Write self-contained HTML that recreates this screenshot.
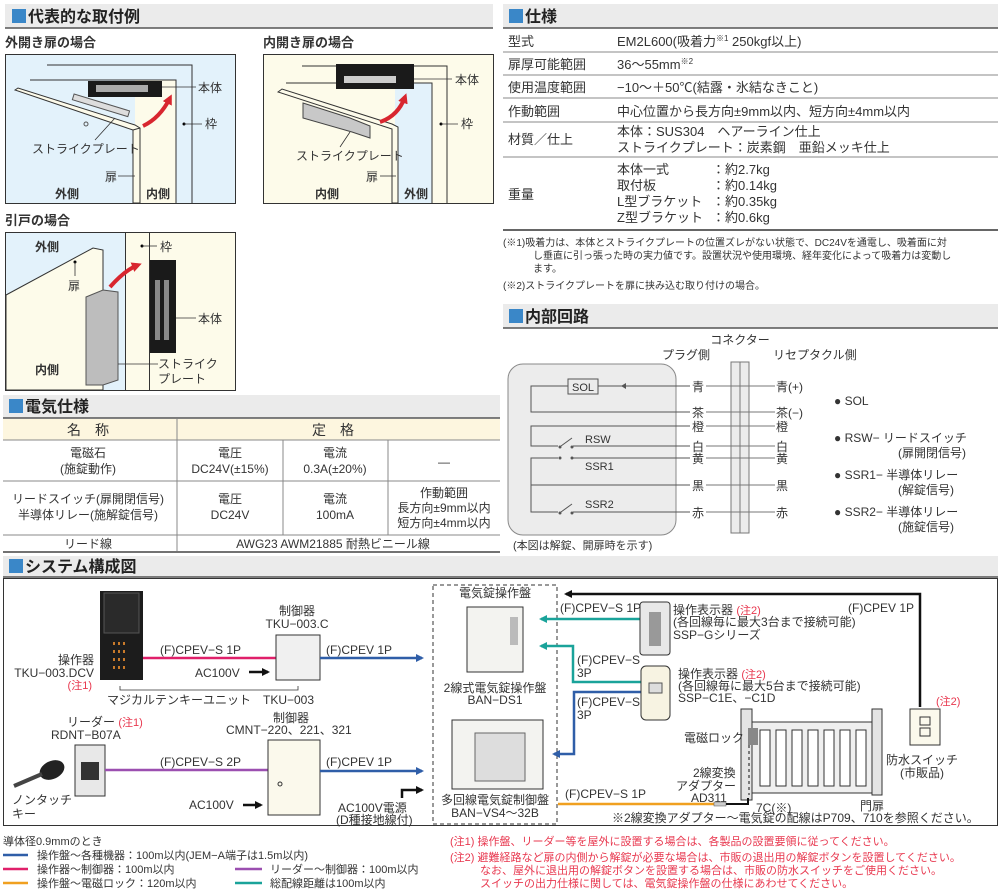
<!DOCTYPE html>
<html><head><meta charset="utf-8"><style>
html,body{margin:0;padding:0;background:#fff}
svg{display:block}
text{font-family:"Liberation Sans","Noto Sans CJK JP",sans-serif;fill:#333}
.h{font-size:16px;font-weight:bold;fill:#222}
.s{font-size:11px}
.m{font-size:12px}
.t{font-size:13px}
.r,.r text,tspan.r{fill:#e8384f}
.b{font-weight:bold}
</style></head><body>
<svg width="1000" height="895" viewBox="0 0 1000 895" xmlns="http://www.w3.org/2000/svg">
<defs>
<marker id="ab" markerWidth="8" markerHeight="8" refX="6" refY="4" orient="auto" markerUnits="userSpaceOnUse"><path d="M0,0 L8,4 L0,8 z" fill="#2f5ea8"/></marker>
<marker id="at" markerWidth="8" markerHeight="8" refX="6" refY="4" orient="auto" markerUnits="userSpaceOnUse"><path d="M0,0 L8,4 L0,8 z" fill="#1aa39a"/></marker>
<marker id="ak" markerWidth="8" markerHeight="8" refX="6" refY="4" orient="auto" markerUnits="userSpaceOnUse"><path d="M0,0 L8,4 L0,8 z" fill="#111"/></marker>
<marker id="ar" markerWidth="10" markerHeight="10" refX="6" refY="5" orient="auto" markerUnits="userSpaceOnUse"><path d="M0,0 L10,5 L0,10 z" fill="#d8262f"/></marker>
</defs>

<g>
<rect x="5" y="4" width="488" height="24" fill="#ebebeb"/><line x1="5" y1="28" x2="493" y2="28" stroke="#555" stroke-width="1.5"/>
<rect x="12" y="9" width="14" height="14" fill="#3a87c8"/><text x="28" y="22" class="h">代表的な取付例</text>
<rect x="503" y="4" width="495" height="24" fill="#ebebeb"/><line x1="503" y1="28" x2="998" y2="28" stroke="#555" stroke-width="1.5"/>
<rect x="509" y="9" width="14" height="14" fill="#3a87c8"/><text x="525" y="22" class="h">仕様</text>
<rect x="503" y="304" width="495" height="24" fill="#ebebeb"/><line x1="503" y1="328" x2="998" y2="328" stroke="#555" stroke-width="1.5"/>
<rect x="509" y="309" width="14" height="14" fill="#3a87c8"/><text x="525" y="322" class="h">内部回路</text>
<rect x="3" y="395" width="497" height="23" fill="#ebebeb"/><line x1="3" y1="418" x2="500" y2="418" stroke="#555" stroke-width="1.5"/>
<rect x="9" y="399" width="14" height="14" fill="#3a87c8"/><text x="25" y="412" class="h">電気仕様</text>
<rect x="3" y="556" width="995" height="21" fill="#ebebeb"/><line x1="3" y1="577" x2="998" y2="577" stroke="#555" stroke-width="1.5"/>
<rect x="9" y="559" width="14" height="14" fill="#3a87c8"/><text x="25" y="572" class="h">システム構成図</text>
</g>

<!-- 外開き -->
<text x="5" y="47" class="t b" fill="#222">外開き扉の場合</text>
<rect x="5.5" y="54.5" width="230" height="149" fill="#e3f2fb" stroke="#333"/>
<polygon points="135,80 176,80 176,203 135,203" fill="#fdfbea"/>
<polyline points="47,65 192,65 192,203" fill="none" stroke="#333"/>
<polyline points="30,80 176,80 176,203" fill="none" stroke="#333"/>
<polygon points="15,90 18,88 135,125 140,128 140,203 133,203 133,130" fill="#fdfbea" stroke="#333"/>
<line x1="133" y1="130" x2="140" y2="128" stroke="#333"/>
<rect x="72" y="102" width="58" height="6" fill="#ddd" stroke="#555" transform="rotate(17 100 105)"/>
<circle cx="86" cy="124" r="2" fill="none" stroke="#555"/>
<rect x="88" y="81" width="74" height="16" fill="#1a1a1a"/><rect x="96" y="85" width="52" height="7" fill="#aaa"/>
<path d="M143,126 Q160,118 170,98" fill="none" stroke="#d8262f" stroke-width="4" marker-end="url(#ar)"/>
<line x1="162" y1="87" x2="196" y2="87" stroke="#333" stroke-width=".8"/><text x="198" y="92" class="m">本体</text>
<circle cx="184" cy="124" r="1.5" fill="#000"/><line x1="184" y1="124" x2="202" y2="124" stroke="#333" stroke-width=".8"/><text x="205" y="128" class="m">枠</text>
<line x1="115" y1="118" x2="95" y2="140" stroke="#333" stroke-width=".8"/><text x="32" y="153" class="m" fill="#555">ストライクプレート</text>
<text x="105" y="181" class="m">扉</text><line x1="118" y1="176" x2="135" y2="176" stroke="#333" stroke-width=".8"/>
<text x="55" y="198" class="m b">外側</text><text x="146" y="198" class="m b">内側</text>

<!-- 内開き -->
<text x="263" y="47" class="t b" fill="#222">内開き扉の場合</text>
<rect x="263.5" y="54.5" width="230" height="149" fill="#fdfbea" stroke="#333"/>
<polygon points="395,83 432,83 432,203 395,203" fill="#e3f2fb"/>
<polyline points="302,66 447,66 447,203" fill="none" stroke="#333"/>
<polyline points="286,83 432,83 432,203" fill="none" stroke="#333"/>
<polygon points="278,92 282,89 392,124 398,127 398,203 392,203 392,129" fill="#fdfbea" stroke="#333"/>
<rect x="336" y="64" width="78" height="25" fill="#1a1a1a"/><rect x="344" y="76" width="52" height="7" fill="#ccc"/>
<polygon points="303,103 350,118 370,126 370,138 352,132 303,118" fill="#c8c8c8" stroke="#444"/>
<path d="M380,122 Q398,116 405,97" fill="none" stroke="#d8262f" stroke-width="4" marker-end="url(#ar)"/>
<line x1="414" y1="79" x2="452" y2="79" stroke="#333" stroke-width=".8"/><text x="455" y="84" class="m">本体</text>
<circle cx="441" cy="124" r="1.5" fill="#000"/><line x1="441" y1="124" x2="458" y2="124" stroke="#333" stroke-width=".8"/><text x="461" y="128" class="m">枠</text>
<line x1="350" y1="132" x2="340" y2="147" stroke="#333" stroke-width=".8"/><text x="296" y="160" class="m" fill="#555">ストライクプレート</text>
<text x="366" y="181" class="m">扉</text><line x1="380" y1="176" x2="396" y2="176" stroke="#333" stroke-width=".8"/>
<text x="315" y="198" class="m b">内側</text><text x="404" y="198" class="m b">外側</text>

<!-- 引戸 -->
<text x="5" y="225" class="t b" fill="#222">引戸の場合</text>
<rect x="5.5" y="232.5" width="230" height="158" fill="#fdfbea" stroke="#333"/>
<polygon points="6,233 125,233 125,390 6,390" fill="#e3f2fb"/>
<polygon points="6,295 93,248 103,250 103,390 6,390" fill="#fdfbea" stroke="#333"/>
<line x1="125.5" y1="233" x2="125.5" y2="390" stroke="#333"/><line x1="149.5" y1="233" x2="149.5" y2="390" stroke="#333"/>
<polygon points="86,297 103,290 118,292 118,380 103,385 86,385" fill="#bdbdbd" stroke="#555"/>
<rect x="150" y="260" width="26" height="93" fill="#1a1a1a"/><rect x="155" y="280" width="5" height="60" fill="#888"/><rect x="164" y="280" width="5" height="60" fill="#888"/>
<path d="M110,287 Q125,270 138,265" fill="none" stroke="#d8262f" stroke-width="4" marker-end="url(#ar)"/>
<text x="35" y="251" class="m b">外側</text><text x="35" y="374" class="m b">内側</text>
<circle cx="142" cy="246" r="1.5" fill="#000"/><line x1="142" y1="246" x2="157" y2="246" stroke="#333" stroke-width=".8"/><text x="160" y="251" class="m">枠</text>
<circle cx="75" cy="262" r="1.5" fill="#000"/><line x1="75" y1="262" x2="75" y2="276" stroke="#333" stroke-width=".8"/><text x="68" y="290" class="m">扉</text>
<line x1="176" y1="318" x2="196" y2="318" stroke="#333" stroke-width=".8"/><text x="198" y="323" class="m">本体</text>
<line x1="118" y1="364" x2="158" y2="364" stroke="#333" stroke-width=".8"/><text x="158" y="368" class="m">ストライク</text><text x="158" y="383" class="m">プレート</text>

<!-- spec table -->
<g class="t">
<text x="508" y="46">型式</text><text x="617" y="46">EM2L600(吸着力<tspan font-size="8" dy="-5">※1</tspan><tspan dy="5"> 250kgf以上)</tspan></text>
<line x1="503" y1="52" x2="998" y2="52" stroke="#888"/>
<text x="508" y="69">扉厚可能範囲</text><text x="617" y="69">36〜55mm<tspan font-size="8" dy="-5">※2</tspan></text>
<line x1="503" y1="75" x2="998" y2="75" stroke="#888"/>
<text x="508" y="92">使用温度範囲</text><text x="617" y="92">−10〜＋50℃(結露・氷結なきこと)</text>
<line x1="503" y1="98" x2="998" y2="98" stroke="#888"/>
<text x="508" y="116">作動範囲</text><text x="617" y="116">中心位置から長方向±9mm以内、短方向±4mm以内</text>
<line x1="503" y1="122" x2="998" y2="122" stroke="#888"/>
<text x="508" y="144">材質／仕上</text><text x="617" y="136">本体：SUS304　ヘアーライン仕上</text><text x="617" y="152">ストライクプレート：炭素鋼　亜鉛メッキ仕上</text>
<line x1="503" y1="157" x2="998" y2="157" stroke="#888"/>
<text x="508" y="199">重量</text>
<text x="617" y="174">本体一式</text><text x="712" y="174">：約2.7kg</text>
<text x="617" y="190">取付板</text><text x="712" y="190">：約0.14kg</text>
<text x="617" y="206">L型ブラケット</text><text x="712" y="206">：約0.35kg</text>
<text x="617" y="222">Z型ブラケット</text><text x="712" y="222">：約0.6kg</text>
</g>
<line x1="503" y1="230" x2="998" y2="230" stroke="#333" stroke-width="1.5"/>
<g style="font-size:10px">
<text x="503" y="246">(※1)吸着力は、本体とストライクプレートの位置ズレがない状態で、DC24Vを通電し、吸着面に対</text>
<text x="533" y="259">し垂直に引っ張った時の実力値です。設置状況や使用環境、経年変化によって吸着力は変動し</text>
<text x="533" y="272">ます。</text>
<text x="503" y="289">(※2)ストライクプレートを扉に挟み込む取り付けの場合。</text>
</g>

<!-- internal circuit -->
<rect x="508" y="364" width="168" height="171" rx="15" fill="#ececec" stroke="#888"/>
<rect x="731" y="362" width="18" height="171" fill="#ececec" stroke="#777"/><line x1="740" y1="362" x2="740" y2="533" stroke="#777"/>
<text x="740" y="344" class="m" text-anchor="middle">コネクター</text>
<text x="686" y="359" class="m" text-anchor="middle">プラグ側</text><text x="773" y="359" class="m">リセプタクル側</text>
<g stroke="#555" stroke-width="1" fill="none">
<polyline points="568,386 531,386 531,412 690,412"/>
<line x1="598" y1="386" x2="690" y2="386"/>
<polyline points="690,426 531,426 531,446 558,446"/><line x1="573" y1="446" x2="690" y2="446"/>
<polyline points="558,458 531,458 531,512 558,512"/><line x1="573" y1="458" x2="690" y2="458"/>
<line x1="531" y1="485" x2="690" y2="485"/><line x1="573" y1="512" x2="690" y2="512"/>
<line x1="561" y1="446" x2="572" y2="438"/><line x1="561" y1="512" x2="572" y2="504"/>
<g stroke="#777">
<line x1="706" y1="386" x2="775" y2="386"/><line x1="706" y1="412" x2="775" y2="412"/><line x1="706" y1="426" x2="775" y2="426"/>
<line x1="706" y1="446" x2="775" y2="446"/><line x1="706" y1="458" x2="775" y2="458"/><line x1="706" y1="485" x2="775" y2="485"/><line x1="706" y1="512" x2="775" y2="512"/>
</g></g>
<rect x="568" y="379" width="30" height="15" fill="#ececec" stroke="#555"/><text x="583" y="391" class="s" text-anchor="middle">SOL</text>
<path d="M626,383 L626,389 L621,386 z" fill="#555"/>
<g fill="#555"><circle cx="560" cy="447" r="1.5"/><circle cx="572" cy="447" r="1.5"/><circle cx="560" cy="458" r="1.5"/><circle cx="572" cy="458" r="1.5"/><circle cx="560" cy="513" r="1.5"/><circle cx="572" cy="513" r="1.5"/></g>
<text x="585" y="443" class="s">RSW</text><text x="585" y="470" class="s">SSR1</text><text x="585" y="508" class="s">SSR2</text>
<g class="m" text-anchor="middle">
<text x="698" y="391">青</text><text x="698" y="417">茶</text><text x="698" y="431">橙</text><text x="698" y="451">白</text><text x="698" y="463">黄</text><text x="698" y="490">黒</text><text x="698" y="517">赤</text>
</g>
<g class="m">
<text x="776" y="391">青(+)</text><text x="776" y="417">茶(−)</text><text x="776" y="431">橙</text><text x="776" y="451">白</text><text x="776" y="463">黄</text><text x="776" y="490">黒</text><text x="776" y="517">赤</text>
<text x="834" y="405">● SOL</text>
<text x="834" y="442">● RSW−  リードスイッチ</text><text x="898" y="457">(扉開閉信号)</text>
<text x="834" y="479">● SSR1−  半導体リレー</text><text x="898" y="494">(解錠信号)</text>
<text x="834" y="516">● SSR2−  半導体リレー</text><text x="898" y="531">(施錠信号)</text>
</g>
<text x="513" y="549" class="s">(本図は解錠、開扉時を示す)</text>

<!-- electrical table -->
<rect x="3" y="419" width="497" height="21" fill="#fdf6df"/>
<g stroke="#888" stroke-width="1">
<line x1="3" y1="440" x2="500" y2="440"/><line x1="3" y1="481" x2="500" y2="481"/><line x1="3" y1="535" x2="500" y2="535"/>
<line x1="177" y1="419" x2="177" y2="551"/><line x1="283" y1="440" x2="283" y2="535"/><line x1="388" y1="440" x2="388" y2="535"/>
</g>
<line x1="3" y1="552" x2="500" y2="552" stroke="#444" stroke-width="1.5"/>
<g class="m" text-anchor="middle">
<text x="88" y="435" style="font-size:14px">名　称</text><text x="333" y="435" style="font-size:14px">定　格</text>
<text x="88" y="457">電磁石</text><text x="88" y="473">(施錠動作)</text>
<text x="230" y="457">電圧</text><text x="230" y="473">DC24V(±15%)</text>
<text x="335" y="457">電流</text><text x="335" y="473">0.3A(±20%)</text>
<text x="444" y="466">—</text>
<text x="88" y="503">リードスイッチ(扉開閉信号)</text><text x="88" y="519">半導体リレー(施解錠信号)</text>
<text x="230" y="503">電圧</text><text x="230" y="519">DC24V</text>
<text x="335" y="503">電流</text><text x="335" y="519">100mA</text>
<text x="444" y="497">作動範囲</text><text x="444" y="512">長方向±9mm以内</text><text x="444" y="527">短方向±4mm以内</text>
<text x="88" y="548">リード線</text><text x="333" y="548">AWG23 AWM21885 耐熱ビニール線</text>
</g>

<!-- system diagram -->
<rect x="3.5" y="578.5" width="994" height="247" fill="#fff" stroke="#333"/>
<rect x="433" y="585" width="124" height="239" fill="none" stroke="#333" stroke-dasharray="4,3"/>
<rect x="100" y="591" width="43" height="89" fill="#1c1c1c"/><polygon points="104,593 139,593 139,633 104,633" fill="#2a2a2a" stroke="#555"/>
<g fill="#c87a2a"><rect x="113" y="642" width="2" height="3"/><rect x="118" y="642" width="2" height="3"/><rect x="123" y="642" width="2" height="3"/><rect x="113" y="650" width="2" height="3"/><rect x="118" y="650" width="2" height="3"/><rect x="123" y="650" width="2" height="3"/><rect x="113" y="658" width="2" height="3"/><rect x="118" y="658" width="2" height="3"/><rect x="123" y="658" width="2" height="3"/><rect x="113" y="666" width="2" height="3"/><rect x="118" y="666" width="2" height="3"/><rect x="123" y="666" width="2" height="3"/></g>
<text x="94" y="664" class="m" text-anchor="end">操作器</text><text x="94" y="677" class="m" text-anchor="end">TKU−003.DCV</text><text x="92" y="689" class="s r" text-anchor="end">(注1)</text>
<line x1="143" y1="658" x2="276" y2="658" stroke="#e0206a" stroke-width="2.5"/>
<text x="160" y="654" class="m">(F)CPEV−S 1P</text>
<text x="195" y="677" class="m">AC100V</text><line x1="249" y1="672" x2="268" y2="672" stroke="#111" stroke-width="2.5" marker-end="url(#ak)"/>
<rect x="276" y="635" width="44" height="45" fill="#f0f0f0" stroke="#333"/>
<text x="297" y="615" class="m" text-anchor="middle">制御器</text><text x="297" y="628" class="m" text-anchor="middle">TKU−003.C</text>
<line x1="320" y1="658" x2="422" y2="658" stroke="#2f5ea8" stroke-width="2.5" marker-end="url(#ab)"/>
<text x="326" y="654" class="m">(F)CPEV 1P</text>
<polyline points="120,686 120,690 298,690 298,686" fill="none" stroke="#333" stroke-width=".8"/>
<text x="107" y="704" class="m">マジカルテンキーユニット　TKU−003</text>
<text x="67" y="726" class="m">リーダー <tspan class="s r">(注1)</tspan></text><text x="51" y="739" class="m">RDNT−B07A</text>
<rect x="75" y="745" width="30" height="51" fill="#e8e8e8" stroke="#333"/><rect x="81" y="762" width="18" height="18" fill="#333"/>
<ellipse cx="52" cy="770" rx="13" ry="9" fill="#222" transform="rotate(-25 52 770)"/><line x1="14" y1="786" x2="42" y2="774" stroke="#444" stroke-width="4"/>
<text x="12" y="804" class="m">ノンタッチ</text><text x="12" y="818" class="m">キー</text>
<line x1="105" y1="770" x2="268" y2="770" stroke="#9b4fb0" stroke-width="2.5"/>
<text x="160" y="766" class="m">(F)CPEV−S 2P</text>
<text x="291" y="722" class="m" text-anchor="middle">制御器</text><text x="226" y="734" class="m">CMNT−220、221、321</text>
<rect x="268" y="740" width="52" height="75" fill="#fbf9ec" stroke="#333"/><circle cx="280" cy="784" r="2" fill="none" stroke="#333"/>
<text x="189" y="809" class="m">AC100V</text><line x1="243" y1="805" x2="261" y2="805" stroke="#111" stroke-width="2.5" marker-end="url(#ak)"/>
<line x1="320" y1="771" x2="422" y2="771" stroke="#2f5ea8" stroke-width="2.5" marker-end="url(#ab)"/>
<text x="326" y="766" class="m">(F)CPEV 1P</text>
<polyline points="402,798 402,790 422,790" fill="none" stroke="#111" stroke-width="2.5" marker-end="url(#ak)"/>
<text x="338" y="812" class="m">AC100V電源</text><text x="336" y="824" class="m">(D種接地線付)</text>
<text x="495" y="597" class="m" text-anchor="middle">電気錠操作盤</text>
<rect x="467" y="607" width="56" height="65" fill="#f3f3f0" stroke="#333"/><rect x="510" y="617" width="8" height="28" fill="#bbb"/>
<text x="495" y="692" class="m" text-anchor="middle">2線式電気錠操作盤</text><text x="495" y="704" class="m" text-anchor="middle">BAN−DS1</text>
<rect x="452" y="720" width="91" height="69" fill="#f3f3f0" stroke="#333"/><rect x="475" y="733" width="50" height="48" fill="#ddd" stroke="#666"/>
<text x="495" y="804" class="m" text-anchor="middle">多回線電気錠制御盤</text><text x="495" y="817" class="m" text-anchor="middle">BAN−VS4〜32B</text>
<line x1="640" y1="619" x2="541" y2="619" stroke="#1aa39a" stroke-width="2.5" marker-end="url(#at)"/>
<text x="560" y="612" class="m">(F)CPEV−S 1P</text>
<rect x="640" y="602" width="30" height="53" rx="3" fill="#e8e8e8" stroke="#333"/><rect x="649" y="612" width="12" height="34" fill="#999"/>
<text x="673" y="614" class="m">操作表示器 <tspan class="s r">(注2)</tspan></text><text x="673" y="626" class="m">(各回線毎に最大3台まで接続可能)</text><text x="673" y="639" class="m">SSP−Gシリーズ</text>
<polyline points="641,682 573,682 573,646 541,646" fill="none" stroke="#1aa39a" stroke-width="2.5" marker-end="url(#at)"/>
<text x="577" y="664" class="m">(F)CPEV−S</text><text x="577" y="677" class="m">3P</text>
<polyline points="641,692 574,692 574,754 554,754" fill="none" stroke="#2f5ea8" stroke-width="2.5" marker-end="url(#ab)"/>
<text x="577" y="706" class="m">(F)CPEV−S</text><text x="577" y="719" class="m">3P</text>
<rect x="641" y="666" width="29" height="54" rx="5" fill="#f7f3e2" stroke="#333"/><rect x="649" y="683" width="13" height="10" fill="#ddd" stroke="#555"/>
<text x="678" y="678" class="m">操作表示器 <tspan class="s r">(注2)</tspan></text><text x="678" y="690" class="m">(各回線毎に最大5台まで接続可能)</text><text x="678" y="702" class="m">SSP−C1E、−C1D</text>
<polyline points="920,707 920,594 566,594" fill="none" stroke="#111" stroke-width="2.5" marker-end="url(#ak)"/>
<text x="848" y="612" class="m">(F)CPEV 1P</text><text x="936" y="705" class="s r">(注2)</text>
<rect x="910" y="709" width="30" height="36" fill="#fbf9ec" stroke="#333"/><rect x="920" y="717" width="10" height="8" fill="none" stroke="#333"/><rect x="920" y="728" width="10" height="8" fill="none" stroke="#333"/>
<text x="922" y="764" class="m" text-anchor="middle">防水スイッチ</text><text x="922" y="777" class="m" text-anchor="middle">(市販品)</text>
<rect x="741" y="709" width="11" height="91" fill="#e4e4e4" stroke="#333"/>
<rect x="752" y="722" width="120" height="71" fill="#efefef" stroke="#333"/>
<g fill="#fff" stroke="#333"><rect x="760" y="730" width="10" height="56"/><rect x="776" y="730" width="10" height="56"/><rect x="792" y="730" width="10" height="56"/><rect x="808" y="730" width="10" height="56"/><rect x="824" y="730" width="10" height="56"/><rect x="840" y="730" width="10" height="56"/><rect x="856" y="730" width="10" height="56"/></g>
<rect x="872" y="709" width="10" height="86" fill="#e4e4e4" stroke="#333"/>
<rect x="748" y="728" width="10" height="17" fill="#888"/>
<line x1="749" y1="745" x2="749" y2="795" stroke="#111" stroke-dasharray="3,3"/>
<text x="684" y="742" class="m">電磁ロック</text>
<text x="693" y="777" class="m">2線変換</text><text x="676" y="790" class="m">アダプター</text><text x="691" y="802" class="m">AD311</text>
<line x1="558" y1="804" x2="714" y2="804" stroke="#f0a020" stroke-width="2.5"/>
<rect x="714" y="802" width="12" height="4" fill="#ccc" stroke="#555" stroke-width=".5"/>
<polyline points="726,804 748,804 748,798" fill="none" stroke="#111" stroke-width="2"/>
<text x="565" y="798" class="m">(F)CPEV−S 1P</text>
<text x="756" y="812" class="m">7C(※)</text><text x="860" y="810" class="m">門扉</text>
<text x="612" y="822" class="m">※2線変換アダプター〜電気錠の配線はP709、710を参照ください。</text>

<text x="3" y="845" class="s">導体径0.9mmのとき</text>
<line x1="3" y1="855" x2="28" y2="855" stroke="#2f5ea8" stroke-width="2.5"/><text x="37" y="859" class="s">操作盤〜各種機器：100m以内(JEM−A端子は1.5m以内)</text>
<line x1="3" y1="869" x2="28" y2="869" stroke="#e0206a" stroke-width="2.5"/><text x="37" y="873" class="s">操作器〜制御器：100m以内</text>
<line x1="3" y1="883" x2="28" y2="883" stroke="#f0a020" stroke-width="2.5"/><text x="37" y="887" class="s">操作盤〜電磁ロック：120m以内</text>
<line x1="235" y1="869" x2="262" y2="869" stroke="#9b4fb0" stroke-width="2.5"/><text x="270" y="873" class="s">リーダー〜制御器：100m以内</text>
<line x1="235" y1="883" x2="262" y2="883" stroke="#1aa39a" stroke-width="2.5"/><text x="270" y="887" class="s">総配線距離は100m以内</text>
<g class="s r">
<text x="450" y="845">(注1) 操作盤、リーダー等を屋外に設置する場合は、各製品の設置要領に従ってください。</text>
<text x="450" y="861">(注2) 避難経路など扉の内側から解錠が必要な場合は、市販の退出用の解錠ボタンを設置してください。</text>
<text x="480" y="874">なお、屋外に退出用の解錠ボタンを設置する場合は、市販の防水スイッチをご使用ください。</text>
<text x="480" y="887">スイッチの出力仕様に関しては、電気錠操作盤の仕様にあわせてください。</text>
</g>
</svg>
</body></html>
